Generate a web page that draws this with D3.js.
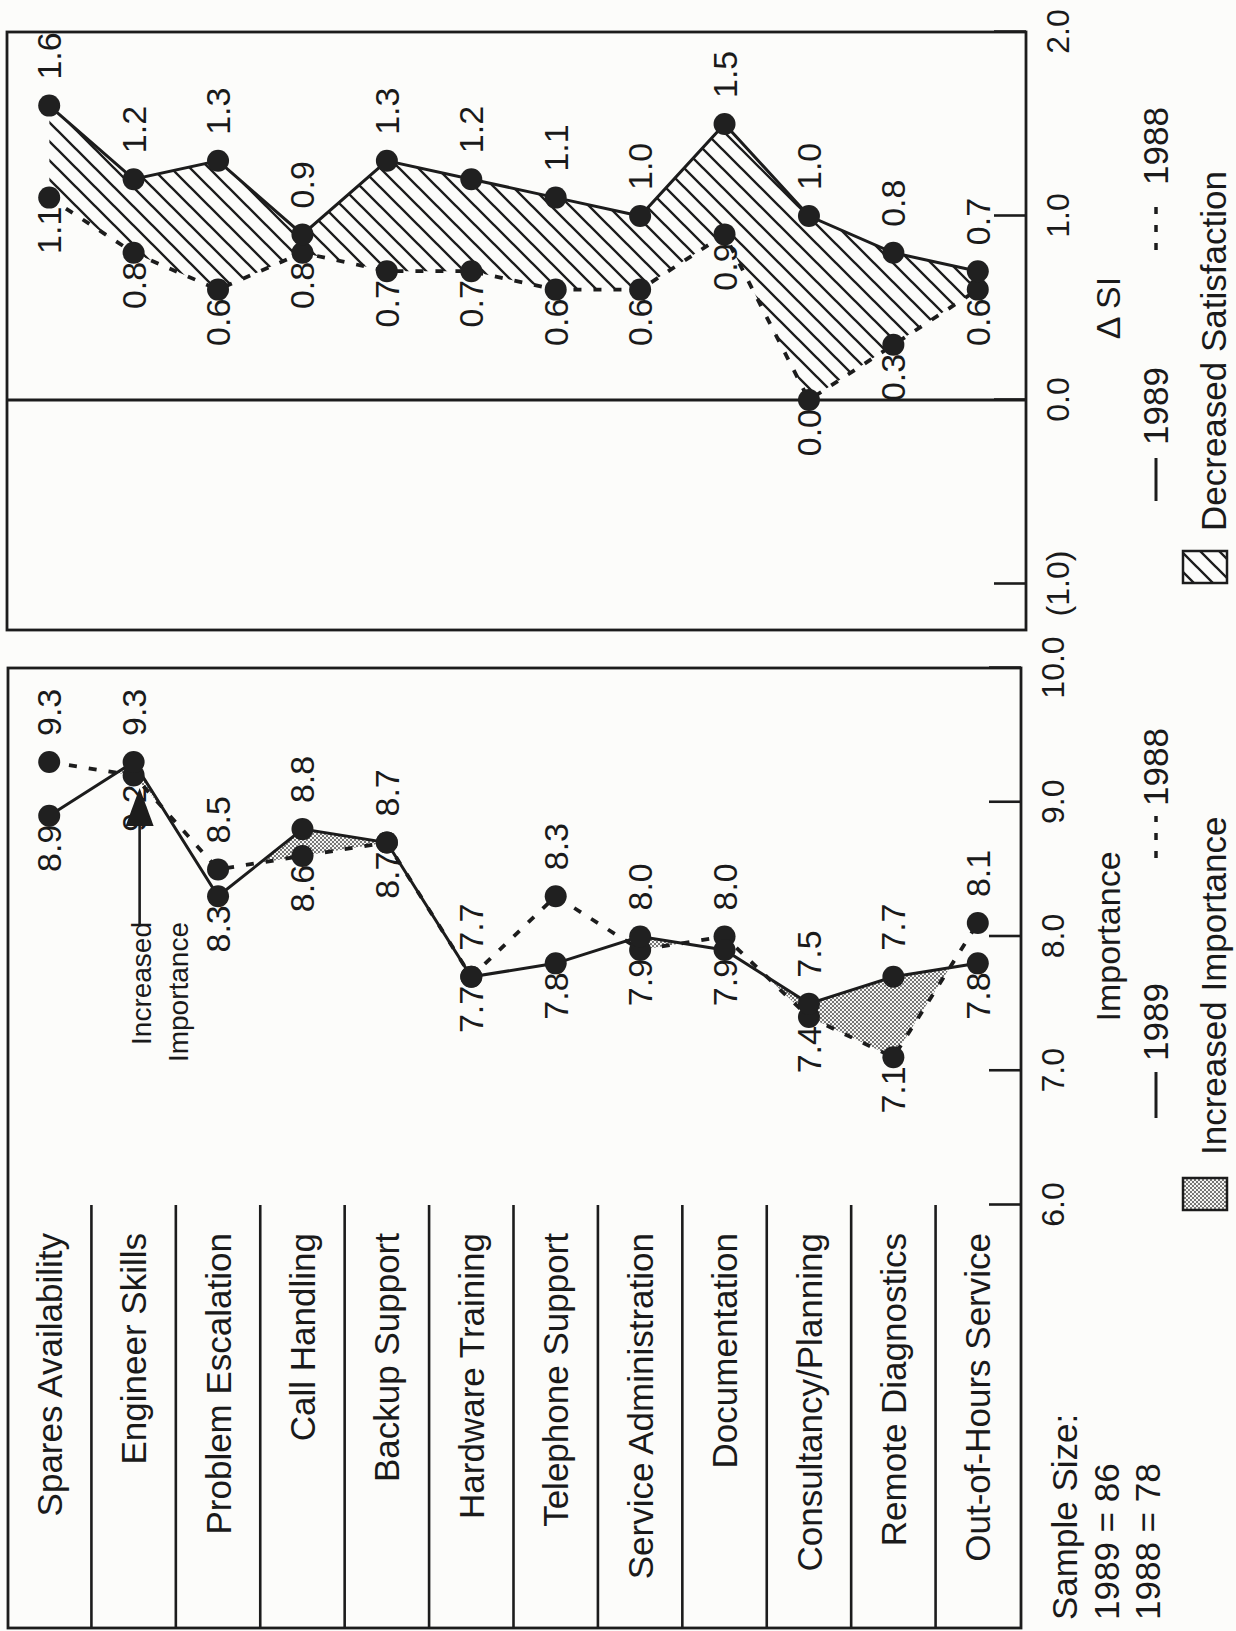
<!DOCTYPE html>
<html><head><meta charset="utf-8">
<script src="https://cdn.jsdelivr.net/npm/d3@7"></script>
<style>
body{margin:0;background:#fcfcfa;}
svg{display:block;}
text{font-family:"Liberation Sans",Arial,Helvetica,sans-serif;fill:#1a1a1a;}
</style>
</head><body>
<script>
// ---------------- data ----------------
const categories = ["Spares Availability","Engineer Skills","Problem Escalation","Call Handling","Backup Support","Hardware Training","Telephone Support","Service Administration","Documentation","Consultancy/Planning","Remote Diagnostics","Out-of-Hours Service"];
const importance1989 = [8.9, 9.3, 8.3, 8.8, 8.7, 7.7, 7.8, 8.0, 7.9, 7.5, 7.7, 7.8];
const importance1988 = [9.3, 9.2, 8.5, 8.6, 8.7, 7.7, 8.3, 7.9, 8.0, 7.4, 7.1, 8.1];
const deltaSI1989 = [1.6, 1.2, 1.3, 0.9, 1.3, 1.2, 1.1, 1.0, 1.5, 1.0, 0.8, 0.7];
const deltaSI1988 = [1.1, 0.8, 0.6, 0.8, 0.7, 0.7, 0.6, 0.6, 0.9, 0.0, 0.3, 0.6];
const importanceTicks = [6, 7, 8, 9, 10];
const importanceTickLabels = ["6.0", "7.0", "8.0", "9.0", "10.0"];
const deltaTicks = [-1, 0, 1, 2];
const deltaTickLabels = ["(1.0)", "0.0", "1.0", "2.0"];
const seriesNames = ["1989", "1988"];
const sampleSizeLines = ["Sample Size:", "1989 = 86", "1988 = 78"];

// ---------------- layout (landscape, then rotated) ----------------
const W = 1236, H = 1631;
const ink = "#1c1c1c";
const FONT = '"Liberation Sans", Arial, Helvetica, sans-serif';

const svg = d3.select("body").append("svg").attr("width", W).attr("height", H);
svg.append("rect").attr("width", W).attr("height", H).attr("fill", "#fcfcfa");
const defs = svg.append("defs");

const hatch = defs.append("pattern").attr("id", "hatch")
  .attr("patternUnits", "userSpaceOnUse").attr("width", 19).attr("height", 19);
hatch.append("path").attr("d", "M0,19 L19,0 M-4,4 L4,-4 M15,23 L23,15")
  .attr("stroke", ink).attr("stroke-width", 2.3).attr("fill", "none");

const stip = defs.append("pattern").attr("id", "stipple")
  .attr("patternUnits", "userSpaceOnUse").attr("width", 4).attr("height", 4);
stip.append("rect").attr("width", 4).attr("height", 4).attr("fill", "#f6f6f4");
stip.append("circle").attr("cx", 1).attr("cy", 1).attr("r", 0.9).attr("fill", "#3a3a3a");
stip.append("circle").attr("cx", 3).attr("cy", 3).attr("r", 0.9).attr("fill", "#3a3a3a");

const g = svg.append("g").attr("transform", `translate(0,${H}) rotate(-90)`);

const yBand = d3.scaleBand().domain(categories).range([7, 1020]);
const cy = c => yBand(c) + yBand.bandwidth() / 2;

const xImp = d3.scaleLinear().domain([6, 10]).range([426, 963]);
const xSI = d3.scaleLinear().domain([-1.25, 2]).range([1001, 1599]);
const fmt = d3.format(".1f");

const panels = [
  { key: "imp", x: xImp, a: importance1989, b: importance1988, lo: 6, hi: 10,
    fill: "url(#stipple)", u0: 3, u1: 963, v0: 8, v1: 1021,
    ticks: importanceTicks, tickLabels: importanceTickLabels,
    title: "Importance", titleAt: 8,
    leg: { solid: [513, 559], t89: 570, dash: [773, 815], t88: 825, box: 421, text: 476, label: "Increased Importance" } },
  { key: "si", x: xSI, a: deltaSI1989, b: deltaSI1988, lo: -1.25, hi: 2,
    fill: "url(#hatch)", u0: 1001, u1: 1599, v0: 7, v1: 1026,
    ticks: deltaTicks, tickLabels: deltaTickLabels,
    title: "\u0394 SI", titleAt: 0.5,
    leg: { solid: [1130, 1173], t89: 1186, dash: [1381, 1425], t88: 1446, box: 1048, text: 1100, label: "Decreased Satisfaction" } }
];

panels.forEach(p => {
  const rows = categories.map((c, i) => ({ c, a: p.a[i], b: p.b[i] }));
  const x = p.x;

  // clip: values below the 1989 line
  defs.append("clipPath").attr("id", "clip-" + p.key).append("path")
    .attr("d", d3.area().y(d => cy(d.c)).x0(x(p.lo)).x1(d => x(d.a))(rows));
  // fill: values above the 1988 line, clipped => between lines where 1989 > 1988
  g.append("path")
    .attr("d", d3.area().y(d => cy(d.c)).x0(d => x(d.b)).x1(x(p.hi))(rows))
    .attr("fill", p.fill).attr("clip-path", `url(#clip-${p.key})`);

  // box
  g.append("rect").attr("x", p.u0).attr("y", p.v0)
    .attr("width", p.u1 - p.u0).attr("height", p.v1 - p.v0)
    .attr("fill", "none").attr("stroke", ink).attr("stroke-width", 2.8);

  // axis (ticks inward)
  const ax = g.append("g").attr("transform", `translate(0,${p.v1})`)
    .call(d3.axisBottom(x).tickValues(p.ticks).tickFormat((d, i) => p.tickLabels[i])
      .tickSizeInner(-32).tickSizeOuter(0).tickPadding(20));
  ax.select(".domain").remove();
  ax.attr("font-family", FONT).attr("font-size", 32).attr("color", ink);
  ax.selectAll("line").attr("stroke-width", 2.6);

  // axis title
  g.append("text").attr("x", x(p.titleAt)).attr("y", 1120)
    .attr("text-anchor", "middle").attr("font-size", 34).text(p.title);

  // legend row 1
  const lv = 1156;
  g.append("line").attr("x1", p.leg.solid[0]).attr("x2", p.leg.solid[1])
    .attr("y1", lv).attr("y2", lv).attr("stroke", ink).attr("stroke-width", 3);
  g.append("text").attr("x", p.leg.t89).attr("y", 1168).attr("font-size", 35).text(seriesNames[0]);
  g.append("line").attr("x1", p.leg.dash[0]).attr("x2", p.leg.dash[1])
    .attr("y1", lv).attr("y2", lv).attr("stroke", ink).attr("stroke-width", 3.5)
    .attr("stroke-dasharray", "7,11");
  g.append("text").attr("x", p.leg.t88).attr("y", 1168).attr("font-size", 35).text(seriesNames[1]);

  // legend row 2
  g.append("rect").attr("x", p.leg.box).attr("y", 1183).attr("width", 32).attr("height", 44)
    .attr("fill", p.fill).attr("stroke", ink).attr("stroke-width", 2.5);
  g.append("text").attr("x", p.leg.text).attr("y", 1226).attr("font-size", 35).text(p.leg.label);

  // zero line for delta panel
  if (p.key === "si") {
    g.append("line").attr("x1", x(0)).attr("x2", x(0)).attr("y1", p.v0).attr("y2", p.v1)
      .attr("stroke", ink).attr("stroke-width", 2.8);
  }

  // lines
  const line = key => d3.line().x(d => x(d[key])).y(d => cy(d.c))(rows);
  g.append("path").attr("d", line("b")).attr("fill", "none").attr("stroke", ink)
    .attr("stroke-width", 3.8).attr("stroke-dasharray", "8,12");
  g.append("path").attr("d", line("a")).attr("fill", "none").attr("stroke", ink)
    .attr("stroke-width", 3);

  // value labels
  const labels = [];
  rows.forEach(d => {
    const aUp = d.a >= d.b;
    labels.push({ c: d.c, v: d.a, up: aUp });
    labels.push({ c: d.c, v: d.b, up: !aUp });
  });
  g.append("g").selectAll("text").data(labels).join("text")
    .attr("x", d => d.up ? x(d.v) + 26 : x(d.v) - 9)
    .attr("y", d => cy(d.c) + 12)
    .attr("text-anchor", d => d.up ? "start" : "end")
    .attr("font-size", 34).text(d => fmt(d.v));

  // dots
  const pts = rows.flatMap(d => [{ c: d.c, v: d.b }, { c: d.c, v: d.a }]);
  g.append("g").selectAll("circle").data(pts).join("circle")
    .attr("cx", d => x(d.v)).attr("cy", d => cy(d.c)).attr("r", 11)
    .attr("fill", "#202020");
});

// category table (left of importance panel)
const tableRight = xImp(6);
g.append("g").selectAll("line").data(categories.slice(1)).join("line")
  .attr("x1", 3).attr("x2", tableRight)
  .attr("y1", d => yBand(d)).attr("y2", d => yBand(d))
  .attr("stroke", ink).attr("stroke-width", 2.6);
g.append("g").selectAll("text").data(categories).join("text")
  .attr("x", 398).attr("y", d => cy(d) + 12.6)
  .attr("text-anchor", "end").attr("font-size", 35).text(d => d);

// sample size
g.append("g").selectAll("text").data(sampleSizeLines).join("text")
  .attr("x", 11).attr("y", (d, i) => 1077 + i * 41.5)
  .attr("font-size", 35).text(d => d);

// annotation: Increased Importance arrow at Engineer Skills
const annV = cy(categories[1]) + 6;
const tipU = xImp(importance1989[1]) - 26;
g.append("line").attr("x1", 707).attr("x2", tipU - 34).attr("y1", annV).attr("y2", annV)
  .attr("stroke", ink).attr("stroke-width", 2.6);
g.append("path")
  .attr("d", `M${tipU - 38},${annV - 14} L${tipU},${annV} L${tipU - 38},${annV + 14} Z`)
  .attr("fill", ink);
g.append("text").attr("x", 709).attr("y", annV + 11).attr("text-anchor", "end")
  .attr("font-size", 28).text("Increased");
g.append("text").attr("x", 709).attr("y", annV + 48).attr("text-anchor", "end")
  .attr("font-size", 28).text("Importance");
</script>
</body></html>
